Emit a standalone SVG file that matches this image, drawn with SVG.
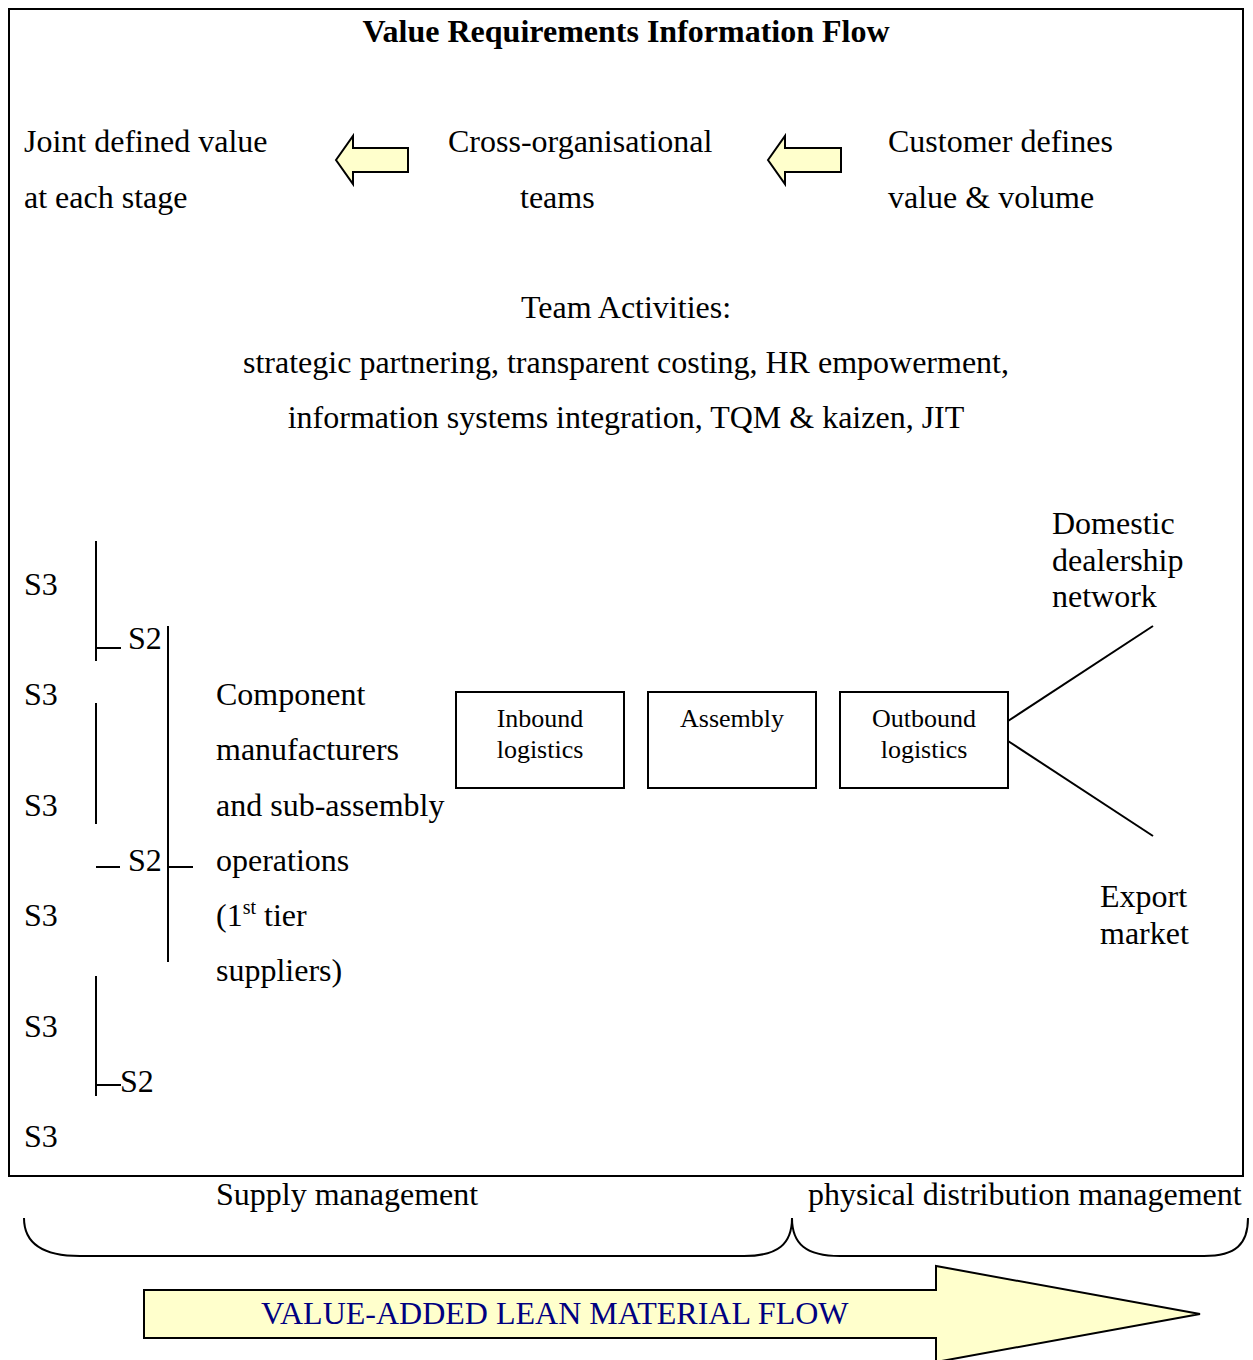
<svg xmlns="http://www.w3.org/2000/svg" width="1253" height="1360" viewBox="0 0 1253 1360">
  <style>
    text { font-family: "Liberation Serif", "Times New Roman", serif; font-size: 32px; fill: #000; }
    .title { font-weight: bold; }
    .mid { text-anchor: middle; }
    .box { fill: #fff; stroke: #000; stroke-width: 2; }
    .boxlabel { font-size: 26px; text-anchor: middle; }
    .line { stroke: #000; stroke-width: 2; fill: none; }
    .arrow { fill: #FFFFCC; stroke: #000; stroke-width: 2; stroke-linejoin: miter; }
    .flow { fill: #000080; }
    .brace { stroke: #000; stroke-width: 2; fill: none; }
  </style>

  <rect width="1253" height="1360" fill="#fff"/>

  <!-- frame of the information-flow panel -->
  <rect x="9" y="9" width="1234" height="1167" fill="none" stroke="#000" stroke-width="2"/>

  <text class="title mid" x="626" y="42">Value Requirements Information Flow</text>

  <!-- value definition chain -->
  <g id="joint-value">
    <text x="24" y="152">Joint defined value</text>
    <text x="24" y="208">at each stage</text>
  </g>
  <g id="arrow-left-1">
    <polygon class="arrow" points="336,160 353,136 353,148 408,148 408,172 353,172 353,184"/>
  </g>
  <g id="cross-teams">
    <text x="448" y="152">Cross-organisational</text>
    <text x="520" y="208">teams</text>
  </g>
  <g id="arrow-left-2">
    <polygon class="arrow" points="768,160 785,136 785,148 841,148 841,172 785,172 785,184"/>
  </g>
  <g id="customer">
    <text x="888" y="152">Customer defines</text>
    <text x="888" y="208">value &amp; volume</text>
  </g>

  <g id="team-activities">
    <text class="mid" x="626" y="318">Team Activities:</text>
    <text class="mid" x="626" y="373">strategic partnering, transparent costing, HR empowerment,</text>
    <text class="mid" x="626" y="428">information systems integration, TQM &amp; kaizen, JIT</text>
  </g>

  <!-- supplier tiers -->
  <g id="tier3">
    <text x="24" y="595">S3</text>
    <text x="24" y="705">S3</text>
    <text x="24" y="816">S3</text>
    <text x="24" y="926">S3</text>
    <text x="24" y="1037">S3</text>
    <text x="24" y="1147">S3</text>
  </g>
  <g id="tier2">
    <text x="128" y="649">S2</text>
    <text x="128" y="871">S2</text>
    <text x="120" y="1092">S2</text>
  </g>
  <g id="tier1">
    <text x="216" y="705">Component</text>
    <text x="216" y="760">manufacturers</text>
    <text x="216" y="816">and sub-assembly</text>
    <text x="216" y="871">operations</text>
    <text x="216" y="926">(1<tspan font-size="20" dy="-12">st</tspan><tspan dy="12"> tier</tspan></text>
    <text x="216" y="981">suppliers)</text>
  </g>

  <g id="inbound">
    <rect class="box" x="456" y="692" width="168" height="96"/>
    <text class="boxlabel" x="540" y="727">Inbound</text>
    <text class="boxlabel" x="540" y="758">logistics</text>
  </g>
  <g id="assembly">
    <rect class="box" x="648" y="692" width="168" height="96"/>
    <text class="boxlabel" x="732" y="727">Assembly</text>
  </g>
  <g id="outbound">
    <rect class="box" x="840" y="692" width="168" height="96"/>
    <text class="boxlabel" x="924" y="727">Outbound</text>
    <text class="boxlabel" x="924" y="758">logistics</text>
  </g>

  <g id="domestic">
    <text x="1052" y="534">Domestic</text>
    <text x="1052" y="571">dealership</text>
    <text x="1052" y="607">network</text>
  </g>
  <g id="export">
    <text x="1100" y="907">Export</text>
    <text x="1100" y="944">market</text>
  </g>

  <!-- connectors -->
  <g id="connectors">
    <line class="line" x1="96" y1="541" x2="96" y2="661"/>
    <line class="line" x1="96" y1="648" x2="121" y2="648"/>
    <line class="line" x1="96" y1="703" x2="96" y2="824"/>
    <line class="line" x1="96" y1="867" x2="120" y2="867"/>
    <line class="line" x1="168" y1="626" x2="168" y2="962"/>
    <line class="line" x1="168" y1="867" x2="193" y2="867"/>
    <line class="line" x1="96" y1="976" x2="96" y2="1096"/>
    <line class="line" x1="96" y1="1085" x2="121" y2="1085"/>
    <line class="line" x1="1008" y1="721" x2="1153" y2="626"/>
    <line class="line" x1="1008" y1="741" x2="1153" y2="836"/>
  </g>

  <!-- management spans -->
  <g id="supply-management">
    <text x="216" y="1205">Supply management</text>
    <path class="brace" d="M24,1218 C24,1244 44,1256 80,1256 L744,1256 C778,1256 792,1244 792,1218"/>
  </g>
  <g id="distribution-management">
    <text x="808" y="1205">physical distribution management</text>
    <path class="brace" d="M792,1218 C792,1244 806,1256 840,1256 L1204,1256 C1236,1256 1248,1244 1248,1218"/>
  </g>

  <g id="material-flow">
    <polygon class="arrow" points="144,1290 936,1290 936,1266 1200,1314 936,1362 936,1338 144,1338"/>
    <text class="flow" x="261" y="1324">VALUE-ADDED LEAN MATERIAL FLOW</text>
  </g>
</svg>
